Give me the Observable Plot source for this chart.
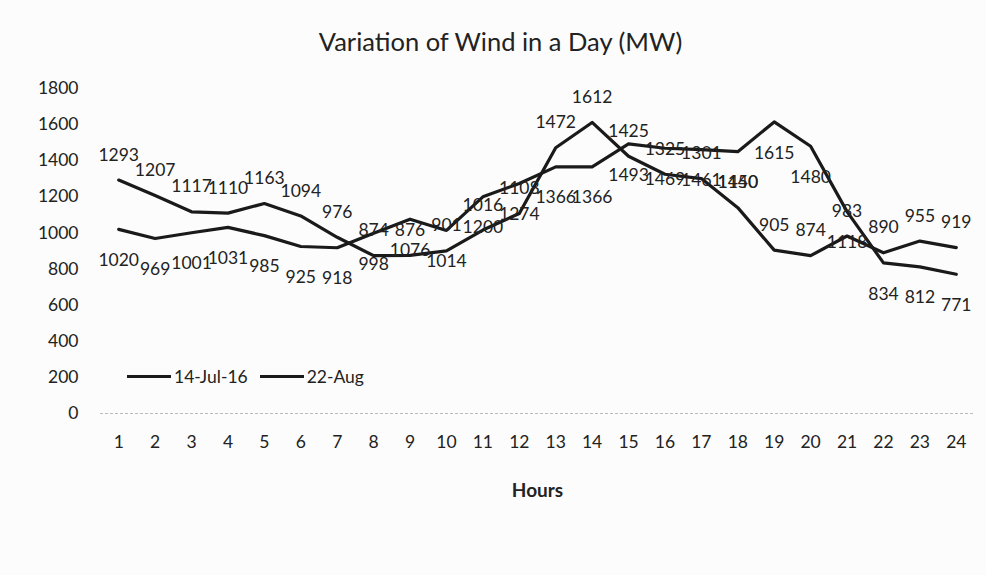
<!DOCTYPE html>
<html>
<head>
<meta charset="utf-8">
<script src="https://cdn.jsdelivr.net/npm/d3@7"></script>
<script src="https://cdn.jsdelivr.net/npm/@observablehq/plot@0.6"></script>
<style>
  html, body { margin: 0; padding: 0; background: #fcfcfc; }
  #wrap { position: relative; width: 986px; height: 575px; overflow: hidden; }
  #legend { position: absolute; left: 127px; top: 366px; display: flex; align-items: center;
            font-family: Lato, "Open Sans", sans-serif; font-size: 17.5px; color: #222; }
  .sw { display: inline-block; width: 44px; height: 3px; background: #1a1a1a; margin-right: 3px; }
  .item { display: flex; align-items: center; margin-right: 12px; }
</style>
</head>
<body>
<div id="wrap"></div>
<script>
const hours = d3.range(1, 25);
const seriesNames = ["14-Jul-16", "22-Aug"];
const jul14 = [1293, 1207, 1117, 1110, 1163, 1094, 976, 874, 876, 901, 1016, 1108,
               1472, 1612, 1425, 1325, 1301, 1140, 905, 874, 983, 890, 955, 919];
const aug22 = [1020, 969, 1001, 1031, 985, 925, 918, 998, 1076, 1014, 1200, 1274,
               1366, 1366, 1493, 1469, 1461, 1450, 1615, 1480, 1118, 834, 812, 771];
const yTicks = [0, 200, 400, 600, 800, 1000, 1200, 1400, 1600, 1800];
const title = "Variation of Wind in a Day (MW)";
const xTitle = "Hours";

const rows = [];
hours.forEach((h, i) => {
  rows.push({hour: h, value: jul14[i], series: seriesNames[0]});
  rows.push({hour: h, value: aug22[i], series: seriesNames[1]});
});
const rowsA = rows.filter(d => d.series === seriesNames[0]);
const rowsB = rows.filter(d => d.series === seriesNames[1]);

const font = "Lato, 'Open Sans', sans-serif";
const fs = 17.5;
const chart = Plot.plot({
  width: 986,
  height: 575,
  marginTop: 88,
  marginBottom: 162,
  marginLeft: 100,
  marginRight: 12,
  style: {fontFamily: font, fontSize: fs + "px", color: "#222", background: "transparent"},
  x: {domain: [0.5, 24.5], axis: null},
  y: {domain: [0, 1800], axis: null},
  marks: [
    Plot.ruleY([0], {stroke: "#bbb", strokeDasharray: "3,2", strokeWidth: 1}),
    Plot.axisY({ticks: yTicks, tickSize: 0, tickPadding: 22, tickFormat: d => String(d), label: null, fontSize: fs, fill: "#222"}),
    Plot.axisX({ticks: hours, tickSize: 0, tickPadding: 22, tickFormat: d => String(d), label: null, fontSize: fs, fill: "#222", anchor: "bottom"}),
    Plot.line(rows, {x: "hour", y: "value", z: "series", stroke: "#1a1a1a", strokeWidth: 3.2, strokeLinejoin: "round"}),
    Plot.text(rowsA, {x: "hour", y: "value", text: d => String(d.value), dy: -25, fontSize: fs, fill: "#222"}),
    Plot.text(rowsB, {x: "hour", y: "value", text: d => String(d.value), dy: 31, fontSize: fs, fill: "#222"}),
    Plot.text([title], {frameAnchor: "top", lineAnchor: "middle", dx: -37, dy: -46, fontSize: 25.5, fill: "#222"}),
    Plot.text([xTitle], {frameAnchor: "bottom", lineAnchor: "middle", dx: 0, dy: 77, fontSize: 19, fontWeight: "bold", fill: "#222"})
  ]
});
const wrap = document.getElementById("wrap");
wrap.appendChild(chart);
const legend = document.createElement("div");
legend.id = "legend";
legend.innerHTML = seriesNames.map(n => `<span class="item"><span class="sw"></span>${n}</span>`).join("");
wrap.appendChild(legend);
</script>
</body>
</html>
